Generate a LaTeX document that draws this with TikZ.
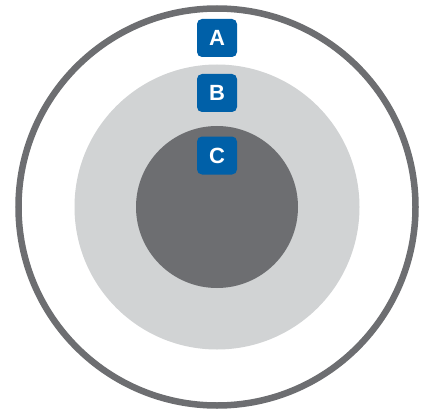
\documentclass[tikz,border=0pt]{standalone}
\usepackage{fontspec}
\setmainfont{Liberation Sans}
\definecolor{ringgray}{HTML}{6D6E71}
\definecolor{lightgray2}{HTML}{D1D3D4}
\definecolor{badgeblue}{HTML}{0060A8}
\begin{document}
\begin{tikzpicture}[x=1pt,y=-1pt,
  badge/.style={fill=badgeblue,text=white,rounded corners=5pt,minimum width=40pt,minimum height=38pt,inner sep=0pt,font=\fontsize{22}{22}\selectfont\bfseries}]
\useasboundingbox (0,0) rectangle (428,409);
\draw[ringgray,line width=6.5pt,fill=white] (217,207) circle (198.5);
\fill[lightgray2] (217,207) circle (142.5);
\fill[ringgray] (217,207) circle (81);
\node[badge] (lblA) at (217,38) {A};
\node[badge] (lblB) at (217,93) {B};
\node[badge] (lblC) at (217,155.5) {C};
\end{tikzpicture}
\end{document}
